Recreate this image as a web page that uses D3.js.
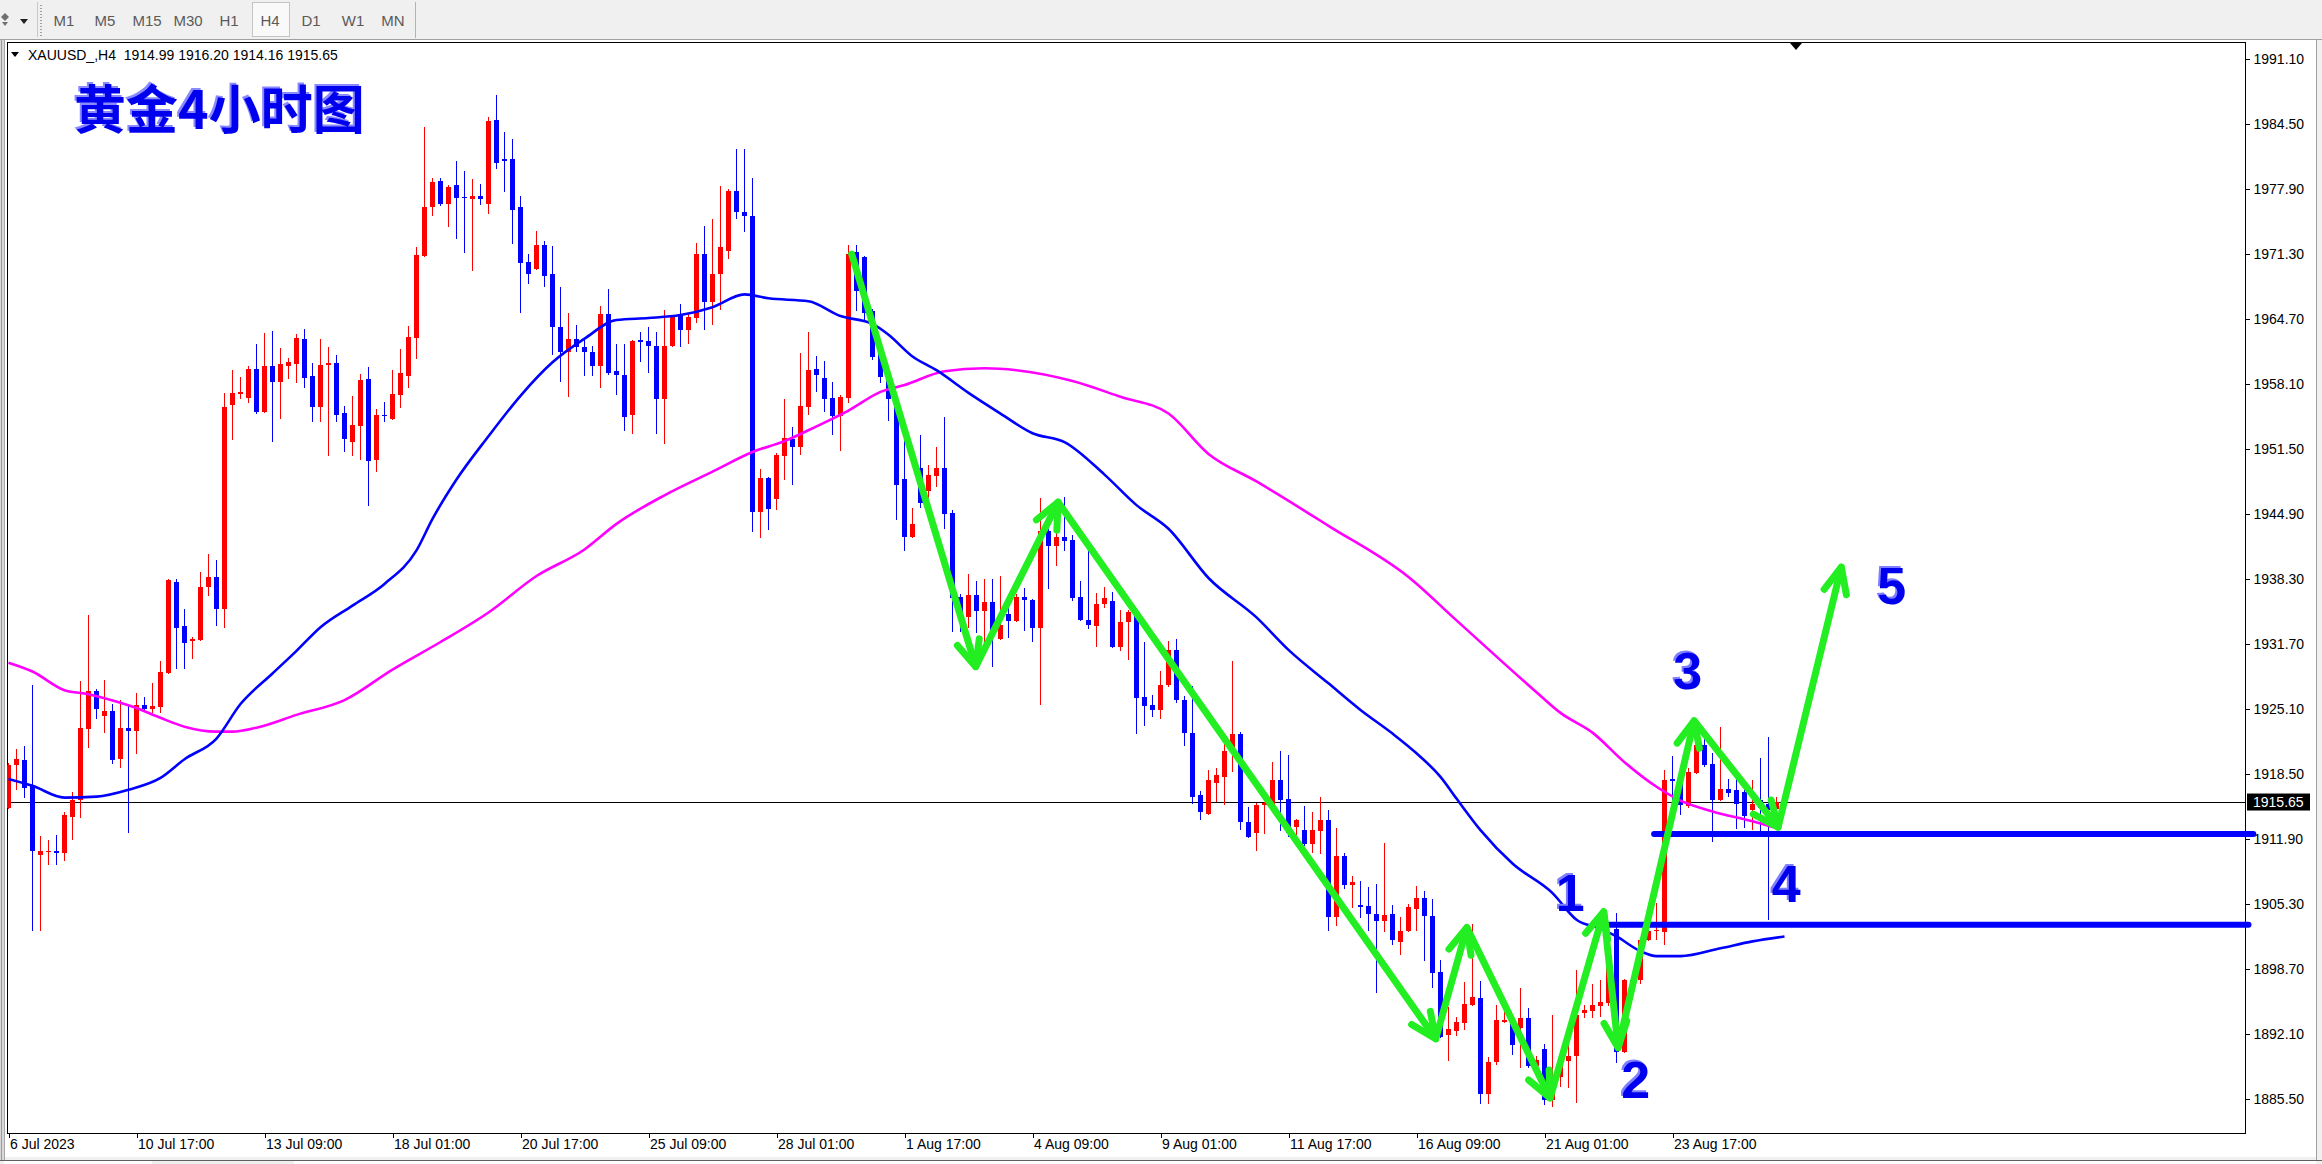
<!DOCTYPE html>
<html><head><meta charset="utf-8">
<script src="https://cdn.jsdelivr.net/npm/d3@7"></script>
<style>html,body{margin:0;padding:0;background:#f0f0f0;overflow:hidden}svg{display:block}</style>
</head><body>
<svg id="c" width="2322" height="1164"></svg>
<script>
// ---------------- DATA ----------------
const opens = [1915.0,1919.4,1919.9,1917.3,1910.3,1910.6,1910.7,1910.5,1914.1,1915.9,
1923.1,1926.9,1924.4,1924.9,1920.0,1923.2,1922.9,1925.5,1925.1,1925.3,
1928.8,1938.0,1933.5,1932.0,1932.1,1937.5,1938.5,1935.3,1956.0,1957.1,
1956.7,1959.6,1955.3,1959.9,1958.3,1959.9,1960.1,1962.7,1958.9,1955.8,
1960.0,1960.2,1955.2,1952.2,1953.8,1958.6,1950.4,1955.0,1954.5,1957.0,
1958.9,1962.8,1971.1,1976.1,1978.7,1976.4,1978.3,1977.1,1976.9,1977.2,
1976.4,1984.9,1980.9,1980.9,1976.1,1970.5,1969.8,1972.2,1969.3,1963.9,
1961.4,1962.7,1961.9,1961.3,1959.9,1965.2,1959.4,1959.0,1955.0,1962.6,
1962.5,1962.0,1956.6,1962.0,1965.1,1963.6,1964.8,1971.3,1966.4,1969.3,
1971.6,1977.7,1975.6,1975.2,1945.1,1948.6,1946.4,1950.8,1952.5,1951.7,
1955.8,1959.6,1958.7,1956.7,1954.9,1956.7,1971.5,1971.0,1965.5,1961.5,
1958.5,1956.6,1948.5,1942.6,1949.6,1947.2,1948.8,1949.6,1945.0,1936.5,
1934.4,1936.7,1935.0,1936.0,1932.2,1934.7,1934.0,1936.5,1936.2,1933.3,
1943.2,1941.7,1942.6,1942.3,1936.5,1934.1,1933.5,1935.8,1936.1,1931.4,
1933.9,1934.5,1926.3,1925.5,1925.0,1927.5,1931.1,1926.0,1922.7,1916.4,
1914.4,1917.6,1918.2,1920.8,1922.6,1913.6,1912.5,1915.3,1915.4,1917.9,
1916.0,1913.1,1912.8,1911.4,1912.7,1913.8,1904.0,1910.2,1907.2,1905.2,
1905.1,1904.3,1903.6,1904.3,1901.4,1902.6,1904.8,1905.9,1904.1,1898.4,
1892.0,1892.4,1893.2,1895.0,1895.7,1886.0,1889.3,1893.3,1893.2,1892.7,
1893.7,1888.8,1890.6,1885.4,1887.7,1889.4,1889.9,1894.2,1894.4,1894.9,
1895.2,1902.8,1890.3,1897.6,1897.6,1901.6,1902.6,1902.5,1918.0,1917.9,
1915.2,1918.6,1921.4,1919.5,1915.9,1917.0,1916.9,1916.7,1914.8,1915.9,
1915.4,1914.99];
const highs = [1919.6,1921.0,1921.3,1927.5,1912.2,1911.8,1912.3,1914.6,1916.7,1927.9,
1934.6,1927.1,1928.0,1925.6,1926.0,1925.6,1926.7,1926.3,1927.7,1930.0,
1938.3,1938.3,1935.3,1932.4,1939.0,1940.8,1940.2,1957.2,1959.5,1958.8,
1959.9,1962.2,1963.3,1963.5,1961.8,1960.7,1963.2,1963.7,1960.2,1962.7,
1961.9,1961.0,1955.9,1956.9,1959.1,1959.8,1955.6,1956.3,1959.5,1961.7,
1964.0,1972.0,1984.2,1979.0,1979.0,1978.3,1980.7,1979.7,1978.9,1978.4,
1985.2,1987.4,1983.7,1983.0,1977.2,1971.3,1973.6,1972.6,1972.1,1968.0,
1965.3,1964.1,1962.7,1962.0,1966.0,1967.7,1962.2,1962.2,1962.6,1963.4,
1963.9,1963.4,1965.6,1965.0,1966.2,1965.2,1972.4,1974.1,1974.9,1978.2,
1977.9,1982.0,1982.0,1979.0,1949.5,1948.7,1951.1,1956.6,1953.7,1961.2,
1963.4,1960.9,1960.4,1958.3,1957.0,1972.2,1972.2,1971.1,1965.7,1962.5,
1958.8,1957.0,1954.3,1945.5,1952.9,1949.9,1951.7,1954.7,1945.3,1936.8,
1938.8,1938.1,1938.3,1938.3,1938.6,1935.7,1936.8,1937.4,1936.3,1946.5,
1943.4,1944.8,1946.6,1942.8,1938.1,1941.1,1936.9,1937.5,1937.0,1935.1,
1935.1,1935.1,1931.9,1926.5,1929.0,1932.0,1932.2,1926.4,1927.4,1916.8,
1918.9,1919.1,1922.1,1930.0,1922.8,1915.1,1915.6,1915.7,1919.7,1920.8,
1920.4,1913.9,1915.2,1914.6,1916.2,1914.8,1913.0,1910.5,1908.1,1907.6,
1907.0,1907.3,1911.5,1905.2,1904.0,1905.3,1907.1,1906.6,1905.8,1899.6,
1894.8,1893.8,1897.4,1903.3,1897.5,1889.8,1895.0,1895.0,1894.0,1896.8,
1894.7,1889.9,1891.1,1894.0,1890.4,1891.8,1898.6,1895.0,1897.2,1897.6,
1899.8,1904.4,1897.7,1898.0,1901.8,1905.4,1905.4,1918.9,1920.3,1918.6,
1919.1,1921.9,1922.3,1920.6,1923.3,1918.0,1918.2,1917.2,1917.9,1920.1,
1922.3,1916.20];
const lows = [1914.9,1916.9,1916.1,1902.6,1902.6,1909.3,1909.3,1909.7,1911.8,1914.0,
1921.1,1924.1,1922.7,1919.5,1919.1,1912.5,1920.5,1925.0,1924.7,1924.7,
1928.7,1929.2,1929.2,1930.2,1932.0,1936.6,1933.5,1933.3,1952.4,1956.6,
1956.2,1955.1,1955.2,1952.2,1954.5,1958.6,1958.2,1957.7,1954.2,1954.2,
1950.8,1954.2,1951.2,1950.8,1950.4,1945.7,1949.2,1954.2,1954.4,1955.7,
1957.7,1960.6,1971.0,1975.2,1976.2,1974.0,1972.8,1971.4,1969.6,1976.3,
1975.4,1979.9,1977.6,1972.3,1965.3,1968.3,1969.7,1967.9,1961.0,1958.3,
1956.8,1961.3,1958.9,1958.9,1957.7,1959.0,1957.0,1953.3,1953.0,1960.3,
1959.2,1953.0,1952.0,1961.9,1961.9,1962.2,1964.3,1963.6,1964.1,1965.6,
1970.8,1974.9,1973.5,1943.1,1942.5,1943.3,1945.3,1948.4,1947.8,1950.9,
1955.0,1957.3,1955.3,1952.9,1951.3,1956.2,1965.5,1964.4,1960.5,1958.2,
1954.3,1944.3,1941.1,1942.5,1945.5,1946.5,1947.6,1943.4,1932.9,1932.9,
1933.3,1932.8,1931.4,1929.4,1932.1,1932.3,1933.9,1933.0,1931.9,1925.5,
1937.3,1939.6,1941.1,1936.1,1934.0,1933.2,1931.4,1935.4,1931.3,1931.0,
1930.1,1922.6,1923.4,1924.3,1924.1,1927.3,1925.7,1921.3,1915.5,1913.8,
1914.3,1915.7,1915.3,1918.7,1912.8,1912.0,1910.7,1912.4,1915.3,1912.7,
1912.1,1912.3,1911.2,1910.5,1910.4,1902.6,1903.1,1906.8,1904.9,1903.9,
1902.6,1896.3,1902.5,1901.1,1900.1,1902.5,1902.6,1899.5,1896.8,1891.7,
1889.4,1891.9,1892.5,1894.9,1885.0,1885.0,1888.9,1893.2,1890.0,1888.6,
1888.6,1888.1,1884.9,1884.7,1886.7,1886.6,1885.1,1893.7,1893.7,1893.8,
1894.9,1889.1,1890.2,1896.8,1897.2,1901.5,1901.6,1901.1,1914.3,1914.3,
1915.0,1918.5,1919.2,1911.6,1915.8,1916.2,1912.9,1913.0,1912.8,1912.5,
1903.7,1914.16];
const closes = [1919.4,1920.0,1917.1,1910.7,1910.7,1910.7,1910.5,1914.3,1915.9,1923.2,
1926.9,1925.1,1924.9,1919.9,1923.2,1922.9,1925.5,1925.1,1925.4,1928.9,
1938.2,1933.3,1931.8,1932.2,1937.5,1938.5,1935.3,1955.8,1957.2,1957.3,
1959.6,1955.3,1959.9,1958.3,1960.1,1960.3,1962.8,1958.7,1955.8,1960.0,
1960.2,1955.0,1952.5,1953.9,1958.5,1950.3,1955.0,1954.8,1957.1,1959.2,
1962.9,1971.2,1976.1,1978.6,1976.4,1978.1,1977.0,1977.0,1977.2,1976.9,
1984.8,1980.5,1980.7,1975.8,1970.4,1969.3,1972.2,1969.1,1963.9,1961.4,
1962.7,1961.9,1961.3,1959.9,1965.2,1959.2,1959.0,1954.7,1962.5,1962.4,
1962.0,1956.6,1962.0,1964.9,1963.6,1964.9,1971.3,1966.4,1969.3,1972.0,
1977.7,1975.6,1975.2,1945.1,1948.6,1945.4,1950.9,1952.6,1951.7,1955.9,
1959.5,1959.0,1956.6,1954.9,1956.8,1971.3,1967.5,1965.3,1960.8,1958.8,
1956.6,1947.8,1942.6,1943.9,1946.0,1948.9,1949.6,1944.9,1936.4,1934.5,
1936.7,1935.0,1936.0,1932.9,1933.6,1934.0,1936.5,1936.2,1933.3,1943.2,
1941.7,1942.6,1942.2,1936.4,1934.1,1933.6,1935.8,1936.4,1931.4,1933.9,
1934.9,1926.2,1925.4,1925.0,1927.5,1931.1,1926.0,1922.7,1916.2,1914.6,
1917.9,1918.4,1920.8,1922.6,1913.6,1912.1,1915.3,1915.6,1917.9,1915.9,
1912.5,1913.8,1911.4,1912.8,1913.8,1904.0,1910.2,1907.2,1907.5,1905.0,
1904.3,1903.6,1904.2,1901.6,1902.6,1905.0,1905.9,1904.1,1898.3,1891.8,
1892.6,1893.3,1895.1,1895.9,1886.0,1889.2,1893.5,1893.5,1891.0,1893.7,
1888.8,1889.5,1885.4,1887.6,1888.9,1889.9,1894.0,1894.5,1895.0,1895.3,
1899.4,1890.3,1897.6,1897.3,1901.6,1902.6,1902.7,1917.9,1917.8,1915.3,
1918.7,1921.4,1919.4,1915.9,1917.0,1916.6,1915.5,1914.2,1915.5,1915.0,
1914.8,1915.65];

// moving averages (bar index, value)
const blueMaBars = [0,3,7,11,15,19,22,26,29,33,36,39,43,47,51,53,56,60,64,68,72,76,80,84,88,92,95,100,104,108,110,113,116,120,124,128,132,137,141,145,150,156,160,165,169,173,176,179,181,184,188,193,196,199,201,204,206,209,214,218,222];
const blueMaValues = [1918.0,1917.3,1916.1,1916.2,1916.9,1918.1,1920.0,1922.1,1925.6,1928.7,1931.0,1933.4,1935.6,1937.8,1941.2,1944.4,1948.4,1952.8,1956.9,1960.3,1962.7,1964.6,1964.8,1965.1,1965.9,1967.2,1966.8,1966.5,1965.0,1964.2,1963.1,1960.9,1959.5,1957.2,1955.1,1953.1,1952.2,1948.9,1945.8,1943.4,1938.4,1934.4,1931.1,1927.7,1925.0,1922.6,1920.6,1918.2,1916.0,1912.8,1909.4,1906.4,1903.7,1902.8,1902.0,1900.5,1900.0,1900.0,1900.8,1901.5,1902.0];
const pinkMaBars = [0,3,7,10,12,16,19,22,26,28,31,36,42,48,54,60,66,72,76,82,88,93,97,101,105,109,112,117,122,126,133,139,145,150,156,165,175,181,191,194,198,202,206,209,213,218,221];
const pinkMaValues = [1929.8,1928.9,1927.0,1926.6,1926.2,1925.2,1924.2,1923.3,1922.8,1922.8,1923.2,1924.5,1926.0,1929.1,1931.9,1934.9,1938.6,1941.3,1943.9,1946.8,1949.2,1951.2,1952.3,1953.8,1955.4,1957.3,1958.0,1959.4,1959.7,1959.5,1958.4,1956.8,1955.1,1951.0,1948.2,1943.7,1938.5,1934.1,1926.8,1924.7,1922.7,1919.7,1917.2,1915.8,1914.7,1913.7,1913.0];

// hand-drawn wave arrows (bar index, price)
const waveBars = [105.4,120.9,131.2,178.4,182.3,192.7,199.4,201.2,210.7,221.2,229.1];
const wavePrices = [1971.3,1929.4,1946.1,1891.6,1902.9,1885.6,1904.5,1890.7,1923.9,1913.1,1939.5];
// horizontal support levels
const levelPrices = [1912.4,1903.2];
const levelStartBars = [205.7,200.0];
const levelEndBars = [280.6,280.0];
// wave count labels
const waveLabels = ["1","2","3","4","5"];
const waveLabelBars = [195.2,203.4,209.9,222.2,235.4];
const waveLabelPrices = [1904.6,1885.6,1927.1,1905.5,1935.8];

const yTickLabels = ["1991.10","1984.50","1977.90","1971.30","1964.70","1958.10","1951.50","1944.90","1938.30","1931.70","1925.10","1918.50","1911.90","1905.30","1898.70","1892.10","1885.50"];
const xTickLabels = ["6 Jul 2023","10 Jul 17:00","13 Jul 09:00","18 Jul 01:00","20 Jul 17:00","25 Jul 09:00","28 Jul 01:00","1 Aug 17:00","4 Aug 09:00","9 Aug 01:00","11 Aug 17:00","16 Aug 09:00","21 Aug 01:00","23 Aug 17:00"];
const xTickBars = [0,16,32,48,64,80,96,112,128,144,160,176,192,208];
const timeframes = ["M1","M5","M15","M30","H1","H4","D1","W1","MN"];
const activeTimeframe = "H4";
const currentPrice = 1915.65;
const headerText = "XAUUSD_,H4  1914.99 1916.20 1914.16 1915.65";
const titleText = "黄金4小时图";

// ---------------- LAYOUT ----------------
const W = 2322, H = 1164;
const F = {l:7, t:42, r:2245, b:1133};
const svg = d3.select('#c');
const x = d3.scaleLinear().domain([0, 221]).range([8.5, 1776.5]);
const y = d3.scaleLinear().domain([1882.04, 1992.83]).range([F.b, F.t]);
const UP = '#ff0000', DN = '#0000ff';
const sans = '"Liberation Sans", Arial, sans-serif';

// backgrounds
svg.append('rect').attr('width', W).attr('height', H).attr('fill', '#f0f0f0');
svg.append('rect').attr('x', 5).attr('y', 40).attr('width', 2311).attr('height', 1117).attr('fill', '#ffffff');
svg.append('rect').attr('x', 0).attr('y', 40).attr('width', 5).attr('height', 1120).attr('fill', '#d8d8d8');
svg.append('line').attr('x1', 1.5).attr('x2', 1.5).attr('y1', 40).attr('y2', 1160).attr('stroke', '#9a9a9a');
svg.append('line').attr('x1', 4.5).attr('x2', 4.5).attr('y1', 40).attr('y2', 1160).attr('stroke', '#a8a8a8');
svg.append('line').attr('x1', 2316.5).attr('x2', 2316.5).attr('y1', 40).attr('y2', 1160).attr('stroke', '#a0a0a0');
svg.append('line').attr('x1', 0).attr('x2', W).attr('y1', 39.5).attr('y2', 39.5).attr('stroke', '#a0a0a0');
// bottom strip / tabs
svg.append('line').attr('x1', 0).attr('x2', W).attr('y1', 1160.5).attr('y2', 1160.5).attr('stroke', '#606060');
svg.append('rect').attr('x', 4).attr('y', 1161).attr('width', 148).attr('height', 3).attr('fill', '#ffffff');
svg.append('rect').attr('x', 294).attr('y', 1161).attr('width', 2022).attr('height', 3).attr('fill', '#ffffff');

// toolbar
const tb = svg.append('g');
tb.append('rect').attr('x', 0).attr('y', 0).attr('width', W).attr('height', 39).attr('fill', '#f0f0f0');
tb.append('path').attr('d', 'M1,17 L5,13 L9,17 L5,21 Z').attr('fill', '#707070');
tb.append('path').attr('d', 'M2,22 L8,22 L5,26 Z').attr('fill', '#707070');
tb.append('path').attr('d', 'M20,19 L28,19 L24,24 Z').attr('fill', '#202020');
tb.append('line').attr('x1', 37.5).attr('x2', 37.5).attr('y1', 2).attr('y2', 37).attr('stroke', '#c8c8c8');
for (let yy = 5; yy < 36; yy += 3) tb.append('rect').attr('x', 40).attr('y', yy).attr('width', 2).attr('height', 1).attr('fill', '#a0a0a0');
tb.append('line').attr('x1', 415.5).attr('x2', 415.5).attr('y1', 2).attr('y2', 38).attr('stroke', '#b4b4b4');
const tfX = [64,105,147,188,229,270,311,353,393];
tb.append('rect').attr('x', 252.5).attr('y', 2.5).attr('width', 37).attr('height', 34).attr('fill', '#f9f9f9').attr('stroke', '#c4c4c4');
tb.selectAll('text.tf').data(timeframes).join('text')
  .attr('x', (d, i) => tfX[i]).attr('y', 26).attr('text-anchor', 'middle')
  .attr('font-family', sans).attr('font-size', 15).attr('fill', '#5a5a5a').text(d => d);

// chart frame
svg.append('defs').append('clipPath').attr('id', 'clip')
  .append('rect').attr('x', F.l).attr('y', F.t).attr('width', F.r - F.l).attr('height', F.b - F.t);
svg.append('rect').attr('x', F.l + 0.5).attr('y', F.t + 0.5).attr('width', F.r - F.l).attr('height', F.b - F.t)
  .attr('fill', 'none').attr('stroke', '#000').attr('stroke-width', 1);

// y axis
const yAxis = d3.axisRight(y).tickValues(yTickLabels.map(Number)).tickSize(4).tickFormat(d => d.toFixed(2));
const ya = svg.append('g').attr('transform', `translate(${F.r + 0.5},0)`).call(yAxis);
ya.select('.domain').remove();
ya.selectAll('line').attr('stroke', '#000').attr('shape-rendering', 'crispEdges');
ya.selectAll('text').attr('font-family', sans).attr('font-size', 14).attr('fill', '#000').attr('x', 8);

// x axis
const xAxis = d3.axisBottom(x).tickValues(xTickBars).tickSize(4).tickFormat((d, i) => xTickLabels[i]);
const xa = svg.append('g').attr('transform', `translate(0,${F.b + 0.5})`).call(xAxis);
xa.select('.domain').remove();
xa.selectAll('line').attr('stroke', '#000').attr('shape-rendering', 'crispEdges');
xa.selectAll('text').attr('font-family', sans).attr('font-size', 14).attr('fill', '#000')
  .attr('text-anchor', 'start').attr('dx', 1).attr('y', 6);

// plot content
const plot = svg.append('g').attr('clip-path', 'url(#clip)');
plot.append('line').attr('x1', F.l).attr('x2', F.r).attr('y1', Math.round(y(currentPrice)) + 0.5).attr('y2', Math.round(y(currentPrice)) + 0.5)
  .attr('stroke', '#000').attr('stroke-width', 1);

const bars = opens.map((o, i) => ({i, o, h: highs[i], l: lows[i], c: closes[i]}));
const col = d => d.c >= d.o ? UP : DN;
plot.selectAll('line.wick').data(bars).join('line').attr('class', 'wick')
  .attr('x1', d => x(d.i)).attr('x2', d => x(d.i)).attr('y1', d => y(d.h)).attr('y2', d => y(d.l))
  .attr('stroke', col).attr('stroke-width', 1).attr('shape-rendering', 'crispEdges');
plot.selectAll('rect.body').data(bars).join('rect').attr('class', 'body')
  .attr('x', d => x(d.i) - 2.5).attr('width', 5)
  .attr('y', d => Math.min(y(d.o), y(d.c))).attr('height', d => Math.max(1, Math.abs(y(d.o) - y(d.c))))
  .attr('fill', col).attr('shape-rendering', 'crispEdges');

// moving averages
const ma = d3.line().x(d => x(d[0])).y(d => y(d[1])).curve(d3.curveMonotoneX);
plot.append('path').attr('d', ma(pinkMaBars.map((b, i) => [b, pinkMaValues[i]])))
  .attr('fill', 'none').attr('stroke', '#ff00ff').attr('stroke-width', 2.6);
plot.append('path').attr('d', ma(blueMaBars.map((b, i) => [b, blueMaValues[i]])))
  .attr('fill', 'none').attr('stroke', '#0000ff').attr('stroke-width', 2.6);

// horizontal levels
svg.selectAll('line.level').data(levelPrices).join('line').attr('class', 'level')
  .attr('x1', (d, i) => x(levelStartBars[i])).attr('x2', (d, i) => x(levelEndBars[i]))
  .attr('y1', d => y(d)).attr('y2', d => y(d))
  .attr('stroke', '#0000ff').attr('stroke-width', 6).attr('stroke-linecap', 'round');

// green wave arrows
const GREEN = '#22ee22';
const pts = waveBars.map((b, i) => [x(b), y(wavePrices[i])]);
const ga = svg.append('g').attr('fill', 'none').attr('stroke', GREEN).attr('stroke-width', 7)
  .attr('stroke-linecap', 'round').attr('stroke-linejoin', 'round');
ga.append('path').attr('d', d3.line()(pts));
for (let i = 1; i < pts.length; i++) {
  const [x0, y0] = pts[i - 1], [x1, y1] = pts[i];
  const back = Math.atan2(y0 - y1, x0 - x1);
  const len = 28, sp = 0.42;
  const a1 = [x1 + len * Math.cos(back + sp), y1 + len * Math.sin(back + sp)];
  const a2 = [x1 + len * Math.cos(back - sp), y1 + len * Math.sin(back - sp)];
  ga.append('path').attr('d', `M${a1[0]},${a1[1]} L${x1},${y1} L${a2[0]},${a2[1]}`);
}

// wave labels
const wl = svg.append('g').attr('font-family', sans).attr('font-weight', 'bold').attr('font-size', 52).attr('text-anchor', 'middle');
wl.selectAll('text.sh').data(waveLabels).join('text').attr('class', 'sh')
  .attr('x', (d, i) => x(waveLabelBars[i]) - 2).attr('y', (d, i) => y(waveLabelPrices[i]) - 2).attr('fill', '#8080ff').text(d => d);
wl.selectAll('text.fg').data(waveLabels).join('text').attr('class', 'fg')
  .attr('x', (d, i) => x(waveLabelBars[i])).attr('y', (d, i) => y(waveLabelPrices[i])).attr('fill', '#0000ee').text(d => d);

// current price tag
const cpY = y(currentPrice);
svg.append('rect').attr('x', 2247).attr('y', cpY - 8.5).attr('width', 63).attr('height', 17).attr('fill', '#000');
svg.append('text').attr('x', 2253).attr('y', cpY).attr('dy', '0.35em').attr('font-family', sans).attr('font-size', 14)
  .attr('fill', '#fff').text(currentPrice.toFixed(2));

// chart shift marker
svg.append('path').attr('d', 'M1790,43 L1802,43 L1796,50 Z').attr('fill', '#000');

// header
svg.append('path').attr('d', 'M11,52 L19,52 L15,57 Z').attr('fill', '#000');
svg.append('text').attr('x', 28).attr('y', 60).attr('font-family', sans).attr('font-size', 14)
  .attr('fill', '#000').style('white-space', 'pre').text(headerText);

// title
const cjk = '"Noto Sans CJK SC", "Noto Sans CJK JP", sans-serif';
svg.append('text').attr('x', 72).attr('y', 127).attr('font-family', cjk).attr('font-weight', 700)
  .attr('font-size', 52).attr('fill', '#8a8aff').text(titleText);
svg.append('text').attr('x', 74).attr('y', 129).attr('font-family', cjk).attr('font-weight', 700)
  .attr('font-size', 52).attr('fill', '#0000ee').text(titleText);
</script>
</body></html>
